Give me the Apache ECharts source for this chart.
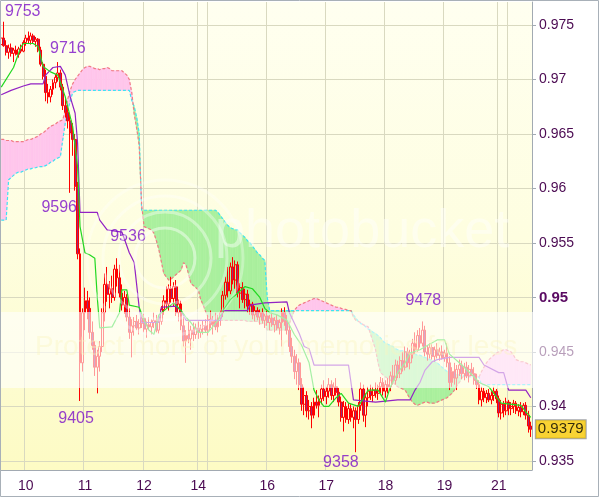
<!DOCTYPE html>
<html><head><meta charset="utf-8">
<script src="https://cdn.jsdelivr.net/npm/echarts@6/dist/echarts.min.js"></script>
<style>html,body{margin:0;padding:0;background:#fff}#c{width:599px;height:497px}</style>
</head><body><div id="c"></div>
<script>
// ---- data (prices in pips, i.e. value*10000) ----
const dayLabels = ['10','11','12','14','16','17','18','19','21'];
const dayLabelIdx = [10,34,58,80,108,132,156,180,202];
const dayGridIdx = [10,34,58,80,84,108,132,156,180,202,206];
const yTicks = [0.935,0.94,0.945,0.95,0.955,0.96,0.965,0.97,0.975];

const opens = [9732,9738,9731,9725,9729,9724,9727,9723,9728,9726,
9734,9738,9736,9740,9735,9737,9727,9714,9703,9688,
9684,9691,9697,9702,9706,9693,9676,9670,9662,9651,
9645,9602,9540,9440,9486,9497,9490,9468,9456,9436,
9446,9455,9486,9512,9503,9508,9500,9526,9518,9504,
9493,9500,9482,9468,9474,9478,9472,9476,9481,9471,
9475,9473,9477,9479,9470,9478,9489,9497,9494,9508,
9499,9510,9486,9494,9474,9460,9465,9462,9470,9466,
9472,9468,9471,9474,9470,9480,9475,9478,9473,9481,
9486,9502,9514,9506,9528,9516,9530,9504,9509,9498,
9503,9492,9494,9484,9488,9482,9486,9479,9483,9477,
9481,9475,9479,9472,9477,9486,9478,9470,9455,9446,
9432,9440,9420,9402,9410,9396,9400,9392,9404,9401,
9407,9416,9409,9414,9420,9410,9418,9413,9404,9390,
9400,9388,9398,9390,9396,9388,9401,9416,9392,9408,
9414,9410,9415,9412,9418,9422,9414,9420,9418,9428,
9424,9438,9430,9442,9436,9450,9440,9448,9458,9452,
9465,9458,9470,9450,9448,9454,9446,9452,9447,9450,
9445,9449,9440,9422,9432,9426,9434,9438,9430,9436,
9428,9434,9430,9424,9420,9406,9414,9408,9412,9406,
9410,9414,9407,9394,9402,9396,9404,9398,9400,9403,
9396,9399,9395,9401,9392,9382];
const closes = [9738,9731,9725,9729,9724,9727,9723,9728,9726,9734,
9738,9736,9740,9735,9737,9727,9714,9703,9688,9684,
9691,9697,9702,9706,9693,9676,9670,9662,9651,9645,
9602,9540,9440,9486,9497,9490,9468,9456,9436,9446,
9455,9486,9512,9503,9508,9500,9526,9518,9504,9493,
9500,9482,9468,9474,9478,9472,9476,9481,9471,9475,
9473,9477,9479,9470,9478,9489,9497,9494,9508,9499,
9510,9486,9494,9474,9460,9465,9462,9470,9466,9472,
9468,9471,9474,9470,9480,9475,9478,9473,9481,9486,
9502,9514,9506,9528,9516,9530,9504,9509,9498,9503,
9492,9494,9484,9488,9482,9486,9479,9483,9477,9481,
9475,9479,9472,9477,9486,9478,9470,9455,9446,9432,
9440,9420,9402,9410,9396,9400,9392,9404,9401,9407,
9416,9409,9414,9420,9410,9418,9413,9404,9390,9400,
9388,9398,9390,9396,9388,9401,9416,9392,9408,9414,
9410,9415,9412,9418,9422,9414,9420,9418,9428,9424,
9438,9430,9442,9436,9450,9440,9448,9458,9452,9465,
9458,9470,9450,9448,9454,9446,9452,9447,9450,9445,
9449,9440,9422,9432,9426,9434,9438,9430,9436,9428,
9434,9430,9424,9420,9406,9414,9408,9412,9406,9410,
9414,9407,9394,9402,9396,9404,9398,9400,9403,9396,
9399,9395,9401,9392,9382,9379];
const lows = [9728,9730,9722,9719,9721,9716,9722,9720,9724,9725,
9731,9733,9732,9733,9730,9725,9712,9700,9680,9678,
9679,9686,9692,9698,9690,9672,9665,9655,9596,9630,
9598,9535,9405,9432,9470,9480,9462,9452,9428,9412,
9432,9450,9478,9496,9490,9495,9497,9510,9500,9488,
9485,9478,9462,9445,9465,9470,9466,9472,9468,9463,
9470,9466,9472,9468,9467,9475,9484,9490,9488,9495,
9492,9483,9478,9470,9455,9440,9458,9452,9460,9462,
9462,9463,9466,9468,9465,9472,9466,9470,9468,9474,
9482,9498,9500,9503,9512,9508,9500,9490,9495,9490,
9486,9484,9480,9478,9479,9475,9476,9472,9474,9470,
9473,9468,9470,9466,9455,9474,9466,9450,9440,9425,
9420,9415,9396,9392,9390,9388,9380,9389,9398,9390,
9402,9405,9402,9408,9406,9404,9410,9400,9386,9377,
9385,9384,9386,9380,9358,9384,9396,9386,9381,9400,
9406,9404,9408,9406,9412,9410,9408,9412,9414,9420,
9420,9426,9426,9432,9433,9436,9434,9444,9448,9450,
9454,9455,9446,9442,9444,9443,9441,9444,9442,9443,
9441,9436,9415,9418,9420,9415,9428,9425,9424,9426,
9422,9428,9420,9416,9402,9400,9404,9403,9404,9402,
9405,9403,9390,9388,9390,9392,9392,9392,9394,9393,
9391,9390,9392,9388,9376,9372];
const highs = [9740,9753,9736,9732,9733,9729,9731,9730,9732,9736,
9741,9744,9743,9742,9739,9738,9730,9716,9709,9696,
9694,9700,9705,9716,9709,9696,9683,9675,9668,9660,
9650,9606,9545,9490,9509,9506,9500,9478,9460,9452,
9460,9490,9522,9528,9515,9520,9530,9536,9530,9512,
9506,9503,9490,9480,9482,9484,9480,9486,9485,9478,
9482,9480,9486,9484,9481,9492,9502,9510,9512,9519,
9514,9516,9498,9497,9482,9470,9478,9474,9477,9476,
9478,9475,9479,9480,9484,9488,9483,9486,9484,9488,
9506,9519,9528,9532,9537,9534,9533,9513,9514,9508,
9507,9498,9496,9492,9491,9489,9490,9485,9488,9484,
9486,9482,9484,9480,9490,9491,9484,9474,9463,9452,
9448,9444,9426,9418,9414,9406,9404,9408,9415,9410,
9420,9424,9418,9426,9424,9422,9426,9417,9409,9405,
9404,9403,9402,9400,9399,9404,9422,9420,9412,9418,
9420,9418,9422,9420,9427,9426,9424,9426,9432,9438,
9443,9442,9446,9450,9455,9454,9452,9462,9468,9470,
9472,9478,9474,9456,9458,9457,9455,9458,9454,9456,
9452,9458,9446,9436,9440,9438,9443,9442,9440,9441,
9438,9440,9436,9430,9424,9418,9417,9415,9416,9414,
9418,9416,9410,9406,9405,9408,9406,9404,9406,9405,
9402,9404,9403,9404,9396,9386];

// Tenkan-sen / Kijun-sen as [barIndex, pips] breakpoints
const tenkan = [[0,9693],[5,9711],[8,9730],[9,9733],[13,9733],[15,9730],[17,9712],[20,9707],[23,9704],[26,9684],[28,9666],[29,9657],[31,9620],[32,9565],[34,9541],[36,9539],[38,9536],[39,9500],[40,9472],[45,9473],[48,9486],[49,9507],[51,9507],[52,9493],[56,9491],[58,9479],[60,9470],[62,9466],[64,9484],[70,9495],[73,9488],[75,9482],[77,9477],[80,9468],[84,9468],[88,9479],[90,9488],[93,9498],[95,9502],[99,9510],[102,9508],[105,9500],[107,9490],[109,9486],[112,9484],[116,9479],[119,9466],[122,9456],[125,9440],[127,9415],[129,9406],[131,9400],[133,9400],[136,9408],[138,9412],[141,9403],[145,9400],[149,9415],[153,9415],[156,9404],[158,9418],[161,9431],[164,9440],[166,9449],[170,9452],[173,9456],[177,9461],[180,9461],[182,9448],[187,9438],[192,9427],[194,9422],[198,9418],[203,9403],[211,9401],[213,9395],[215,9390]];
const kijun = [[0,9686],[4,9690],[9,9694],[12,9696],[17,9696],[18,9704],[21,9711],[24,9712],[26,9704],[28,9684],[30,9669],[31,9642],[32,9578],[39,9578],[40,9571],[43,9562],[49,9560],[52,9541],[54,9532],[56,9491],[57,9477],[64,9477],[65,9491],[71,9492],[73,9488],[75,9479],[89,9479],[90,9488],[100,9488],[101,9493],[107,9495],[116,9496],[117,9486],[121,9467],[123,9455],[125,9453],[127,9438],[141,9438],[143,9406],[152,9404],[161,9406],[166,9406],[168,9415],[170,9422],[172,9433],[175,9441],[177,9443],[182,9445],[194,9445],[196,9438],[202,9431],[204,9431],[206,9415],[213,9415],[215,9408]];

// Senkou span A / B, one value per bar
const spanA = [9571,9571,9571,9608,9610,9612,9614,9615,9615,9616,
9617,9618,9618,9619,9619,9620,9620,9620,9621,9622,
9624,9625,9627,9628,9629,9645,9660,9672,9680,9688,
9689,9690,9690,9690,9690,9690,9690,9690,9690,9690,
9690,9690,9690,9690,9690,9690,9690,9690,9690,9690,
9690,9690,9690,9681,9675,9665,9651,9580,9580,9580,
9580,9580,9580,9580,9580,9580,9580,9580,9580,9580,
9580,9580,9580,9580,9580,9580,9580,9580,9580,9580,
9580,9580,9580,9580,9580,9580,9580,9580,9578,9575,
9572,9569,9566,9564,9563,9562,9562,9559,9557,9555,
9552,9550,9547,9544,9541,9539,9536,9534,9500,9488,
9488,9488,9488,9488,9488,9488,9488,9488,9488,9488,
9488,9488,9488,9488,9488,9488,9488,9488,9488,9488,
9488,9488,9488,9488,9488,9488,9488,9488,9488,9488,
9488,9488,9488,9484,9481,9478,9476,9475,9473,9471,
9470,9468,9467,9465,9463,9460,9458,9457,9456,9455,
9453,9452,9451,9451,9450,9450,9449,9449,9448,9447,
9447,9446,9445,9444,9443,9442,9441,9440,9438,9436,
9434,9432,9430,9430,9430,9429,9429,9428,9428,9428,
9427,9427,9427,9427,9427,9420,9420,9420,9420,9420,
9420,9420,9420,9420,9420,9420,9420,9420,9420,9420,
9420,9420,9420,9420,9420,9420];
const spanB = [9645,9645,9644,9644,9644,9643,9643,9643,9643,9643,
9644,9645,9645,9646,9647,9648,9650,9651,9653,9655,
9657,9658,9659,9661,9662,9663,9672,9682,9690,9696,
9700,9703,9706,9709,9711,9712,9712,9711,9710,9710,
9709,9710,9710,9711,9710,9708,9708,9708,9708,9708,
9706,9704,9700,9688,9668,9655,9640,9585,9565,9564,
9563,9562,9559,9552,9544,9533,9522,9519,9516,9517,
9519,9521,9523,9525,9532,9530,9522,9513,9511,9509,
9507,9498,9493,9487,9482,9481,9480,9479,9479,9479,
9479,9479,9479,9479,9479,9479,9479,9479,9479,9479,
9478,9478,9478,9478,9478,9476,9476,9476,9470,9470,
9470,9470,9470,9470,9470,9470,9470,9476,9482,9488,
9491,9493,9494,9495,9496,9497,9498,9499,9499,9498,
9497,9496,9495,9494,9493,9492,9491,9491,9490,9489,
9489,9488,9488,9482,9479,9478,9477,9475,9474,9473,
9466,9459,9452,9440,9431,9429,9427,9426,9424,9422,
9420,9418,9417,9416,9415,9411,9407,9404,9402,9401,
9402,9403,9404,9404,9403,9403,9403,9404,9405,9406,
9407,9408,9410,9412,9415,9419,9422,9426,9428,9429,
9429,9429,9428,9428,9427,9432,9436,9440,9443,9445,
9447,9449,9450,9451,9452,9452,9451,9450,9447,9443,
9442,9441,9441,9440,9439,9438];

// annotated extremes
const peakIdx = [1,23,28,47,32,144,171];
const peakVal = [9753,9716,9596,9536,9405,9358,9478];

// ---- chart ----
const P = v => v / 10000;
const N = opens.length;
const cats = Array.from({length: N}, (_, i) => String(i));
const candles = opens.map((o, i) => [P(o), P(closes[i]), P(lows[i]), P(highs[i])]);
const lastClose = closes[N - 1];
const cloudData = [];
for (let i = 0; i < N - 1; i++) cloudData.push([i, P(spanA[i]), P(spanB[i]), P(spanA[i + 1]), P(spanB[i + 1])]);

const GREEN = '#aaf09e', PINK = '#ffc6ec';
const AXC = '#a2aab2', TXT = '#4b0a52', ANN = '#7c10c8';
const FONT = 'Liberation Sans, Arial, sans-serif';

function poly(pts, c) {
  return {type: 'polygon', shape: {points: pts}, style: {fill: c, stroke: c, lineWidth: 0.6}};
}
function renderCloud(params, api) {
  const i = api.value(0);
  const a0 = api.value(1), b0 = api.value(2), a1 = api.value(3), b1 = api.value(4);
  const A0 = api.coord([i, a0]), B0 = api.coord([i, b0]);
  const A1 = api.coord([i + 1, a1]), B1 = api.coord([i + 1, b1]);
  const d0 = a0 - b0, d1 = a1 - b1;
  const col = d => d >= 0 ? GREEN : PINK;
  const children = [];
  if (d0 * d1 < 0) {
    const t = d0 / (d0 - d1);
    const X = [A0[0] + (A1[0] - A0[0]) * t, A0[1] + (A1[1] - A0[1]) * t];
    children.push(poly([A0, X, B0], col(d0)));
    children.push(poly([X, A1, B1], col(d1)));
  } else {
    children.push(poly([A0, A1, B1, B0], col(d0 !== 0 ? d0 : d1)));
  }
  return {type: 'group', children};
}

const labelOffsets = [[19, -10], [10, -13], [-11, 15], [11, -22], [-4, 18], [-15, 10], [1, -21]];

const chart = echarts.init(document.getElementById('c'), null, {renderer: 'canvas'});
chart.setOption({
  animation: false,
  backgroundColor: '#ffffff',
  textStyle: {fontFamily: FONT},
  grid: {
    left: 0, right: 67, top: 2, bottom: 27, show: true, borderWidth: 0,
    backgroundColor: new echarts.graphic.LinearGradient(0, 0, 0, 1, [
      {offset: 0, color: '#fffff0'}, {offset: 0.5, color: '#fefee0'},
      {offset: 0.8, color: '#fdfcd0'}, {offset: 1, color: '#fdfbc4'}])
  },
  xAxis: {
    type: 'category', data: cats, boundaryGap: true,
    axisLine: {lineStyle: {color: AXC, width: 1}},
    axisTick: {interval: (idx) => dayLabelIdx.includes(idx), length: 5, lineStyle: {color: AXC}},
    axisLabel: {
      interval: (idx) => dayLabelIdx.includes(idx),
      formatter: (v, idx) => { const k = dayLabelIdx.indexOf(Number(v)); return k >= 0 ? dayLabels[k] : ''; },
      color: TXT, fontSize: 14, margin: 9, fontFamily: FONT
    },
    splitLine: {show: true, interval: (idx) => dayGridIdx.includes(idx), lineStyle: {color: '#d9d9c0', width: 1}}
  },
  yAxis: {
    type: 'value', position: 'right', min: 0.934168, max: 0.977110, scale: true,
    axisLine: {show: true, lineStyle: {color: AXC, width: 1}},
    axisTick: {show: true, customValues: yTicks, length: 4, lineStyle: {color: AXC}},
    axisLabel: {
      customValues: yTicks, margin: 7, color: TXT, fontSize: 14, fontFamily: FONT,
      formatter: v => Math.abs(v - 0.95) < 1e-9 ? '{b|0.95}' : String(+v.toFixed(3)),
      rich: {b: {fontWeight: 'bold', fontSize: 15, color: '#5a0a62', fontFamily: FONT}}
    },
    splitLine: {show: true, lineStyle: {color: '#d9d9c0', width: 1}}
  },
  series: [
    {type: 'custom', name: 'cloud', data: cloudData, renderItem: renderCloud, clip: true, z: 1,
     encode: {x: 0, y: [1, 2, 3, 4]}, silent: true},
    {type: 'line', name: 'Senkou A', data: spanA.map(P), symbol: 'none', z: 2, silent: true,
     lineStyle: {color: '#3ee4f2', width: 1.2, type: [3, 2]}},
    {type: 'line', name: 'Senkou B', data: spanB.map(P), symbol: 'none', z: 2, silent: true,
     lineStyle: {color: '#f07c84', width: 1.2, type: [3, 2]}},
    {type: 'candlestick', name: 'price', data: candles, z: 3, barWidth: 2.4,
     itemStyle: {color: 'rgba(255,255,255,0)', color0: '#9a2878', borderColor: '#ff0000', borderColor0: '#ff0000', borderWidth: 1}},
    {type: 'line', name: 'Kijun', data: kijun.map(d => [d[0], P(d[1])]), symbol: 'none', z: 4, silent: true,
     lineStyle: {color: '#9222c4', width: 1.2}},
    {type: 'line', name: 'Tenkan', data: tenkan.map(d => [d[0], P(d[1])]), symbol: 'none', z: 4, silent: true,
     lineStyle: {color: '#22d822', width: 1.2}},
    {type: 'scatter', name: 'extremes', z: 5, symbolSize: 0.1, silent: true,
     itemStyle: {color: 'rgba(0,0,0,0)'},
     data: peakIdx.map((ix, k) => ({value: [ix, P(peakVal[k])], label: {offset: labelOffsets[k]}})),
     label: {show: true, position: 'inside', formatter: p => String(peakVal[p.dataIndex]),
             color: ANN, fontSize: 16, fontFamily: FONT}},
    {type: 'scatter', name: 'last price', z: 6, symbolSize: 0.1, silent: true, clip: false,
     itemStyle: {color: 'rgba(0,0,0,0)'},
     data: [[N - 1, P(lastClose)]],
     label: {show: true, position: 'right', distance: 5, formatter: () => P(lastClose).toFixed(4),
             backgroundColor: '#f8c800', borderColor: '#8c9096', borderWidth: 1,
             padding: [2, 2, 1, 2], color: '#000', fontSize: 15, fontFamily: FONT}}
  ],
  graphic: [
    {type: 'circle', shape: {cx: 165, cy: 258, r: 30}, style: {fill: 'none', stroke: 'rgba(255,255,255,0.45)', lineWidth: 3}, z: 90, silent: true},
    {type: 'circle', shape: {cx: 165, cy: 258, r: 46}, style: {fill: 'none', stroke: 'rgba(255,255,255,0.4)', lineWidth: 3}, z: 90, silent: true},
    {type: 'circle', shape: {cx: 165, cy: 258, r: 62}, style: {fill: 'none', stroke: 'rgba(255,255,255,0.35)', lineWidth: 3}, z: 90, silent: true},
    {type: 'circle', shape: {cx: 165, cy: 258, r: 78}, style: {fill: 'none', stroke: 'rgba(255,255,255,0.3)', lineWidth: 3}, z: 90, silent: true},
    {type: 'text', left: 215, top: 205, z: 91, silent: true,
     style: {text: 'photobucket', fill: 'rgba(255,255,255,0.45)', font: '54px ' + FONT}},
    {type: 'rect', shape: {x: 0, y: 312, width: 599, height: 76}, z: 95, silent: true,
     style: {fill: 'rgba(255,255,255,0.6)'}},
    {type: 'text', left: 35, top: 333, z: 96, silent: true,
     style: {text: 'Protect more of your memories for less', fill: 'rgba(250,246,190,0.4)', font: '28px ' + FONT}},
    {type: 'rect', shape: {x: 0.5, y: 0.5, width: 598, height: 496}, z: 99, silent: true,
     style: {fill: 'none', stroke: '#a8b0b8', lineWidth: 1}}
  ]
});
</script>
</body></html>
